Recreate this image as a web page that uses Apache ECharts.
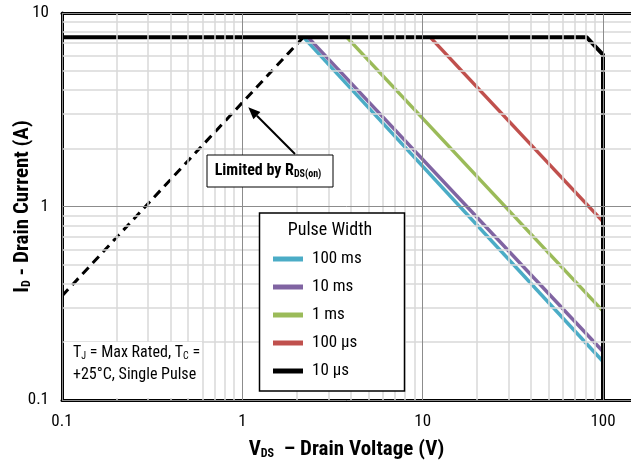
<!DOCTYPE html>
<html>
<head>
<meta charset="utf-8">
<script src="https://cdn.jsdelivr.net/npm/echarts@6.0.0/dist/echarts.min.js"></script>
<style>
html,body{margin:0;padding:0;background:#fff;}
#chart{width:631px;height:466px;}
</style>
</head>
<body>
<div id="chart"></div>
<script>
// ---- data ----
const pulseNames = ['100 ms', '10 ms', '1 ms', '100 µs', '10 µs'];
const pulseColors = ['#4bacc6', '#8064a2', '#9bbb59', '#c0504d', '#000000'];

const v100ms = [2.18, 100];  const i100ms = [7.5, 0.158];
const v10ms  = [2.31, 100];  const i10ms  = [7.5, 0.178];
const v1ms   = [3.79, 100];  const i1ms   = [7.5, 0.288];
const v100us = [11.0, 100];  const i100us = [7.5, 0.835];
const v10us  = [0.1, 81, 100, 100]; const i10us = [7.5, 7.5, 6.1, 0.1];
const vRds   = [0.1, 2.18];  const iRds   = [0.345, 7.5];

const xTickValues = [0.1, 1, 10, 100];
const xTickLabels = ['0.1', '1', '10', '100'];
const yTickValues = [0.1, 1, 10];
const yTickLabels = ['0.1', '1', '10'];
const xMinorGrid = [0.2,0.3,0.4,0.5,0.6,0.7,0.8,0.9, 2,3,4,5,6,7,8,9, 20,30,40,50,60,70,80,90];
const yMinorGrid = [0.2,0.3,0.4,0.5,0.6,0.7,0.8,0.9, 2,3,4,5,6,7,8,9];

const pulseV = [v100ms, v10ms, v1ms, v100us, v10us];
const pulseI = [i100ms, i10ms, i1ms, i100us, i10us];

// ---- helpers ----
const FONT = "'Roboto Condensed', 'Liberation Sans', sans-serif";
const zip = (xs, ys) => xs.map((x, k) => [x, ys[k]]);
function labelFor(values, labels) {
  return function (v) {
    for (let k = 0; k < values.length; k++) {
      if (Math.abs(Math.log10(v) - Math.log10(values[k])) < 1e-6) return labels[k];
    }
    return '';
  };
}

const gridLineData = []
  .concat(xMinorGrid.map(v => ({ xAxis: v, lineStyle: { color: '#d9d9d9', width: 1.5, type: 'solid' } })))
  .concat(yMinorGrid.map(v => ({ yAxis: v, lineStyle: { color: '#d9d9d9', width: 1.5, type: 'solid' } })))
  .concat(xTickValues.map(v => ({ xAxis: v, lineStyle: { color: '#8c8c8c', width: 1, type: 'solid' } })))
  .concat(yTickValues.map(v => ({ yAxis: v, lineStyle: { color: '#8c8c8c', width: 1, type: 'solid' } })));

const series = [
  {
    name: 'grid', type: 'line', data: [], z: 1, silent: true,
    markLine: { silent: true, symbol: ['none', 'none'], label: { show: false }, animation: false, data: gridLineData }
  },
  {
    name: 'RDS(on)', type: 'line', data: zip(vRds, iRds), showSymbol: false, z: 2,
    lineStyle: { color: '#000', width: 3, type: [9, 6] }, itemStyle: { color: '#000' }
  }
];
pulseNames.forEach((n, k) => {
  series.push({
    name: n, type: 'line', data: zip(pulseV[k], pulseI[k]), showSymbol: false,
    z: k === 4 ? 4 : 3,
    lineStyle: { color: pulseColors[k], width: k === 4 ? 4 : 3.5 },
    itemStyle: { color: pulseColors[k] }
  });
});

const subRich = (size) => ({
  b: { fontFamily: FONT, fontWeight: 'bold', fontSize: size, color: '#000' },
  s: { fontFamily: FONT, fontWeight: 'bold', fontSize: Math.round(size * 0.55), color: '#000', verticalAlign: 'bottom', padding: [8, 0, 0, 0] }
});

const chart = echarts.init(document.getElementById('chart'), null, { renderer: 'canvas' });
chart.setOption({
  animation: false,
  backgroundColor: '#fff',
  grid: { left: 62, right: 0, top: 13, bottom: 66, containLabel: false, outerBoundsMode: 'none' },
  xAxis: [
    {
      type: 'log', logBase: 10, min: 0.1, max: 143, position: 'bottom',
      axisLine: { show: true, lineStyle: { color: '#000', width: 3 } },
      axisTick: { show: false },
      splitLine: { show: false },
      axisLabel: { formatter: labelFor(xTickValues, xTickLabels), fontFamily: FONT, fontSize: 17, color: '#000', margin: 13 },
      name: '{b|V}{s|DS}{b|  – Drain Voltage (V)}',
      nameLocation: 'middle', nameGap: 39, nameMoveOverlap: false,
      nameTextStyle: { rich: subRich(21) }
    },
    {
      type: 'log', logBase: 10, min: 0.1, max: 143, position: 'top',
      axisLine: { show: true, lineStyle: { color: '#000', width: 3 } },
      axisTick: { show: false }, axisLabel: { show: false }, splitLine: { show: false }
    }
  ],
  yAxis: {
    type: 'log', logBase: 10, min: 0.1, max: 10,
    axisLine: { show: true, lineStyle: { color: '#000', width: 3 } },
    axisTick: { show: false },
    splitLine: { show: false },
    axisLabel: { formatter: labelFor(yTickValues, yTickLabels), fontFamily: FONT, fontSize: 17, color: '#000', margin: 13 },
    name: '{b|I}{s|D}{b| - Drain Current (A)}',
    nameLocation: 'middle', nameGap: 29, nameMoveOverlap: false,
    nameTextStyle: { rich: subRich(21) }
  },
  legend: {
    data: pulseNames,
    orient: 'vertical', left: 259, top: 213, z: 8,
    padding: [36, 40, 10, 14],
    itemWidth: 30, itemHeight: 5, itemGap: 8, icon: 'rect',
    backgroundColor: 'transparent',
    textStyle: { fontFamily: FONT, fontSize: 17, color: '#000', lineHeight: 20, padding: [0, 0, 0, 4] },
    selectedMode: false
  },
  graphic: [
    { type: 'rect', z: 6, shape: { x: 259.5, y: 213, width: 145, height: 178 }, style: { fill: '#fff', stroke: '#000', lineWidth: 1.5 } },
    { type: 'text', z: 7, x: 330, y: 230, style: { text: 'Pulse Width', fontFamily: FONT, fontSize: 18, fill: '#000', align: 'center', verticalAlign: 'middle' } },
    { type: 'rect', z: 6, shape: { x: 64, y: 342, width: 138, height: 56 }, style: { fill: '#fff', stroke: null } },
    { type: 'text', z: 7, x: 73, y: 353, style: {
        text: '{n|T}{s|J}{n| = Max Rated, T}{s|C}{n| =}', verticalAlign: 'middle',
        rich: { n: { fontFamily: FONT, fontSize: 16, fill: '#000' }, s: { fontFamily: FONT, fontSize: 10, fill: '#000', verticalAlign: 'bottom', padding: [7, 0, 0, 0] } } } },
    { type: 'text', z: 7, x: 73, y: 375, style: { text: '+25°C, Single Pulse', fontFamily: FONT, fontSize: 16, fill: '#000', verticalAlign: 'middle' } },
    { type: 'rect', z: 6, shape: { x: 207, y: 155, width: 126, height: 32 }, style: { fill: '#fff', stroke: '#000', lineWidth: 1 } },
    { type: 'text', z: 7, x: 268, y: 171, style: {
        text: '{b|Limited by R}{s|DS(on)}', align: 'center', verticalAlign: 'middle',
        rich: { b: { fontFamily: FONT, fontWeight: 'bold', fontSize: 16, fill: '#000' }, s: { fontFamily: FONT, fontWeight: 'bold', fontSize: 10, fill: '#000', verticalAlign: 'bottom', padding: [7, 0, 0, 0] } } } },
    { type: 'line', z: 7, shape: { x1: 295, y1: 154, x2: 256.9, y2: 115.7 }, style: { stroke: '#000', lineWidth: 2 } },
    { type: 'polygon', z: 7, shape: { points: [[248.3, 107.3], [260.4, 112.1], [253.4, 119.3]] }, style: { fill: '#000' } }
  ],
  series: series
});
</script>
</body>
</html>
